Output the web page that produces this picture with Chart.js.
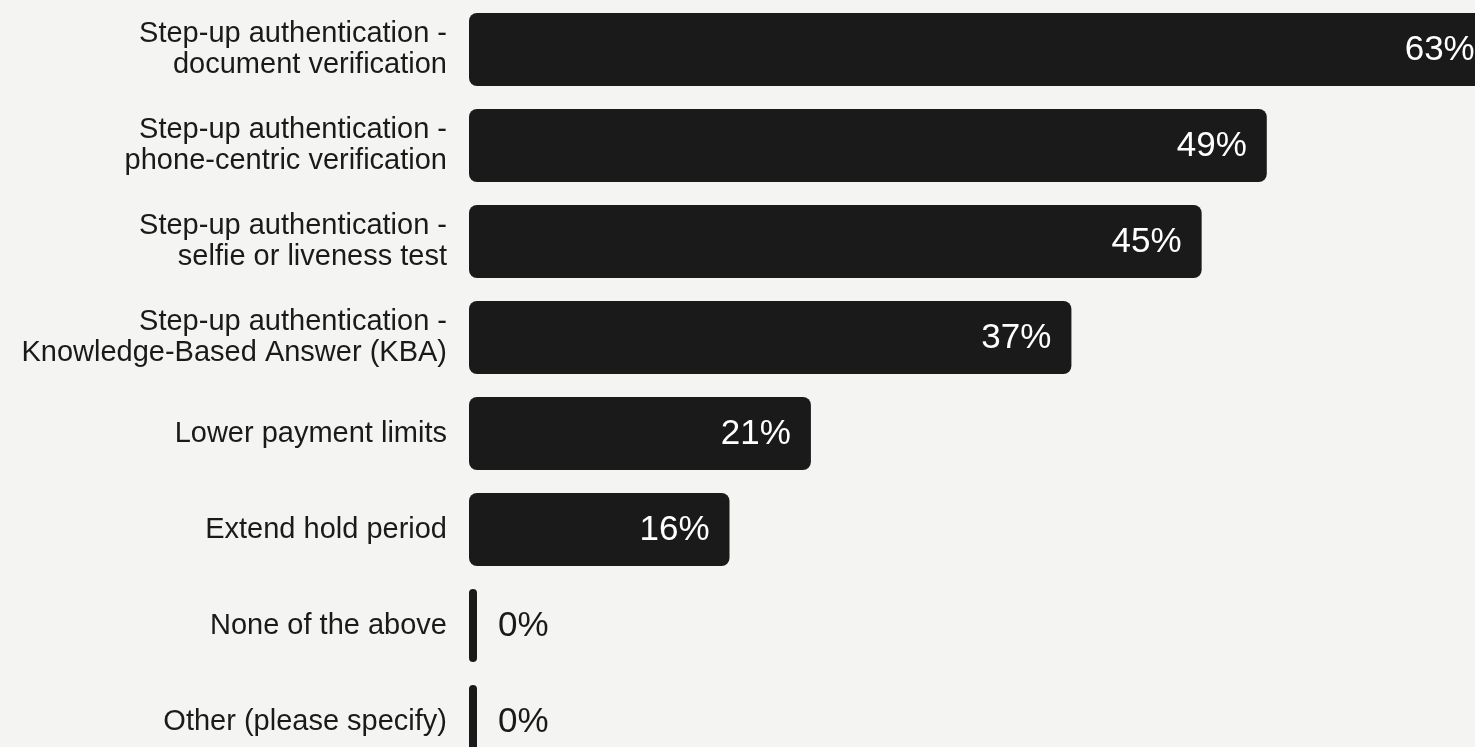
<!DOCTYPE html>
<html>
<head>
<meta charset="utf-8">
<script src="https://cdn.jsdelivr.net/npm/chart.js@4"></script>
<style>
  html, body { margin: 0; padding: 0; background: #f4f4f2; overflow: hidden; }
  #wrap { position: absolute; left: 0; top: 0; }
</style>
</head>
<body>
<div id="wrap"><canvas id="chart" width="1511" height="771"></canvas></div>
<script>
// data
const categories = [
    ["Step-up authentication -", "document verification"],
    ["Step-up authentication -", "phone-centric verification"],
    ["Step-up authentication -", "selfie or liveness test"],
    ["Step-up authentication -", "Knowledge-Based Answer (KBA)"],
    "Lower payment limits",
    "Extend hold period",
    "None of the above",
    "Other (please specify)"
];
const values = [63, 49, 45, 37, 21, 16, 0, 0];
const xMax = 64;

// value labels drawn at the end of each bar
const barLabels = {
    id: "barLabels",
    afterDatasetsDraw(chart) {
        const ctx = chart.ctx;
        const meta = chart.getDatasetMeta(0);
        ctx.save();
        ctx.font = "35px 'Liberation Sans', Arial, sans-serif";
        ctx.textBaseline = "middle";
        meta.data.forEach(function (bar, i) {
            const end = Math.max(bar.x, bar.base);
            const txt = values[i] + "%";
            if (values[i] > 0) {
                ctx.fillStyle = "#ffffff";
                ctx.textAlign = "right";
                ctx.fillText(txt, end - 20, bar.y + 1);
            } else {
                ctx.fillStyle = "#1a1a1a";
                ctx.textAlign = "left";
                ctx.fillText(txt, end + 21, bar.y + 1);
            }
        });
        ctx.restore();
    }
};

new Chart(document.getElementById("chart"), {
    type: "bar",
    data: {
        labels: categories,
        datasets: [{
            data: values,
            backgroundColor: "#1a1a1a",
            borderRadius: 8,
            borderSkipped: false,
            minBarLength: 8,
            barPercentage: 0.76,
            categoryPercentage: 1
        }]
    },
    options: {
        indexAxis: "y",
        responsive: false,
        animation: false,
        layout: { padding: { top: 1.5, bottom: 1.5, left: 0, right: 0 } },
        plugins: { legend: { display: false }, tooltip: { enabled: false } },
        scales: {
            x: {
                display: false,
                min: 0,
                max: xMax
            },
            y: {
                grid: { display: false, drawTicks: false },
                border: { display: false },
                ticks: {
                    padding: 22,
                    color: "#1a1a1a",
                    font: { family: "'Liberation Sans', Arial, sans-serif", size: 29, lineHeight: 1.1 }
                },
                afterFit: function (scale) {
                    scale.width = 469;
                    scale.paddingTop = 0;
                    scale.paddingBottom = 0;
                }
            }
        }
    },
    plugins: [barLabels]
});
</script>
</body>
</html>
